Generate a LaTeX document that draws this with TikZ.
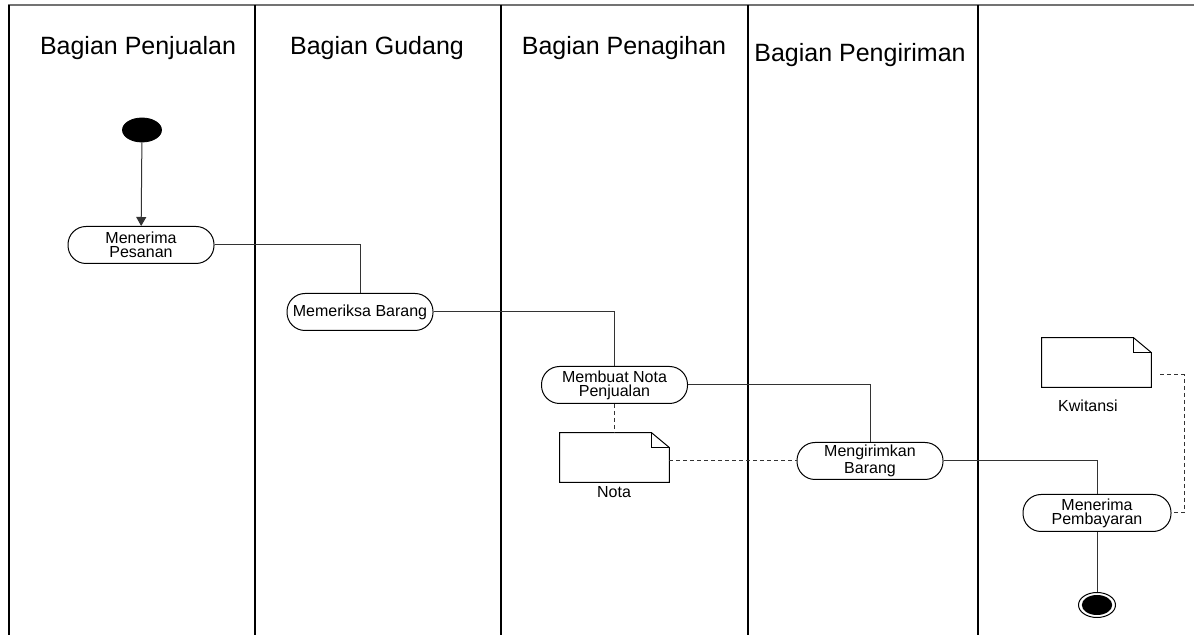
\documentclass[tikz,border=0pt]{standalone}
\usepackage{fontspec}
\setmainfont{Liberation Sans}
\usetikzlibrary{arrows.meta,shapes.geometric}
\begin{document}
\begin{tikzpicture}[x=0.5pt,y=-0.5pt,
 lane/.style={line width=1pt},
 act/.style={draw, rounded corners=9pt, minimum width=73pt, minimum height=18.5pt, inner sep=0pt, align=center, font=\fontsize{8}{7}\selectfont, line width=0.5pt},
 flow/.style={line width=0.5pt, draw=black!80},
 objflow/.style={line width=0.5pt, draw=black!80, dash pattern=on 2pt off 1.5pt},
 hdr/.style={font=\fontsize{12.5}{14}\selectfont, inner sep=0pt},
 lbl/.style={font=\fontsize{8}{9}\selectfont, inner sep=0pt},
 docbox/.style={minimum width=54.5pt, minimum height=24.5pt, inner sep=0pt}]
\useasboundingbox (0,0) rectangle (1194,635);
% swimlanes
\draw[black!55, line width=0.6pt] (8,5) -- (1194,5);
\foreach \x in {9,255,501,748,978} \draw[lane] (\x,5) -- (\x,635);
% headers
\node[hdr] (h1) at (138,48) {Bagian Penjualan};
\node[hdr] (h2) at (377,48) {Bagian Gudang};
\node[hdr] (h3) at (624,48) {Bagian Penagihan};
\node[hdr] (h4) at (860,55) {Bagian Pengiriman};
% start / end
\node[draw, fill=black, ellipse, minimum width=19.5pt, minimum height=12pt, inner sep=0pt] (start) at (142,130) {};
\node[draw, ellipse, minimum width=18.5pt, minimum height=12.5pt, inner sep=0pt, line width=0.5pt] (end) at (1097,605) {};
\fill (end.center) ellipse (7.6pt and 5pt);
% activities
\node[act] (a1) at (141,245) {Menerima\\Pesanan};
\node[act] (a2) at (360,312) {Memeriksa Barang};
\node[act] (a3) at (614.5,385) {Membuat Nota\\Penjualan};
\node[act] (a4) at (870,461) {Mengirimkan\\Barang};
\node[act, minimum width=74pt] (a5) at (1097,513) {Menerima\\Pembayaran};
% documents
\node[docbox] (nota) at (614.5,457.5) {};
\draw[line width=0.5pt] (nota.north west) -- ([xshift=-9pt]nota.north east) -- ([yshift=-7.5pt]nota.north east) -- (nota.south east) -- (nota.south west) -- cycle;
\draw[line width=0.8pt] ([xshift=-9pt]nota.north east) |- ([yshift=-7.5pt]nota.north east);
\node[lbl] (notal) at (614,492) {Nota};
\node[docbox] (kw) at (1096.5,362.5) {};
\draw[line width=0.5pt] (kw.north west) -- ([xshift=-9pt]kw.north east) -- ([yshift=-7.5pt]kw.north east) -- (kw.south east) -- (kw.south west) -- cycle;
\draw[line width=0.8pt] ([xshift=-9pt]kw.north east) |- ([yshift=-7.5pt]kw.north east);
\node[lbl] (kwl) at (1088,406) {Kwitansi};
% control flows
\draw[flow, -{Triangle[width=5pt,length=4.5pt]}] (start) -- (a1);
\draw[flow] (a1.east) -| (a2.north);
\draw[flow] (a2.east) -| (a3.north);
\draw[flow] (a3.east) -| (a4.north);
\draw[flow] (a4.east) -| (a5.north);
\draw[flow] (a5.south) -- (end.north);
% object flows
\draw[objflow] (a3.south) -- (nota.north);
\draw[objflow] (a4.west -| nota.east) -- (a4.west);
\coordinate (kwc) at (1160,375);
\draw[objflow] (kwc) -- ++(24,0) |- (a5.east);
\end{tikzpicture}
\end{document}
